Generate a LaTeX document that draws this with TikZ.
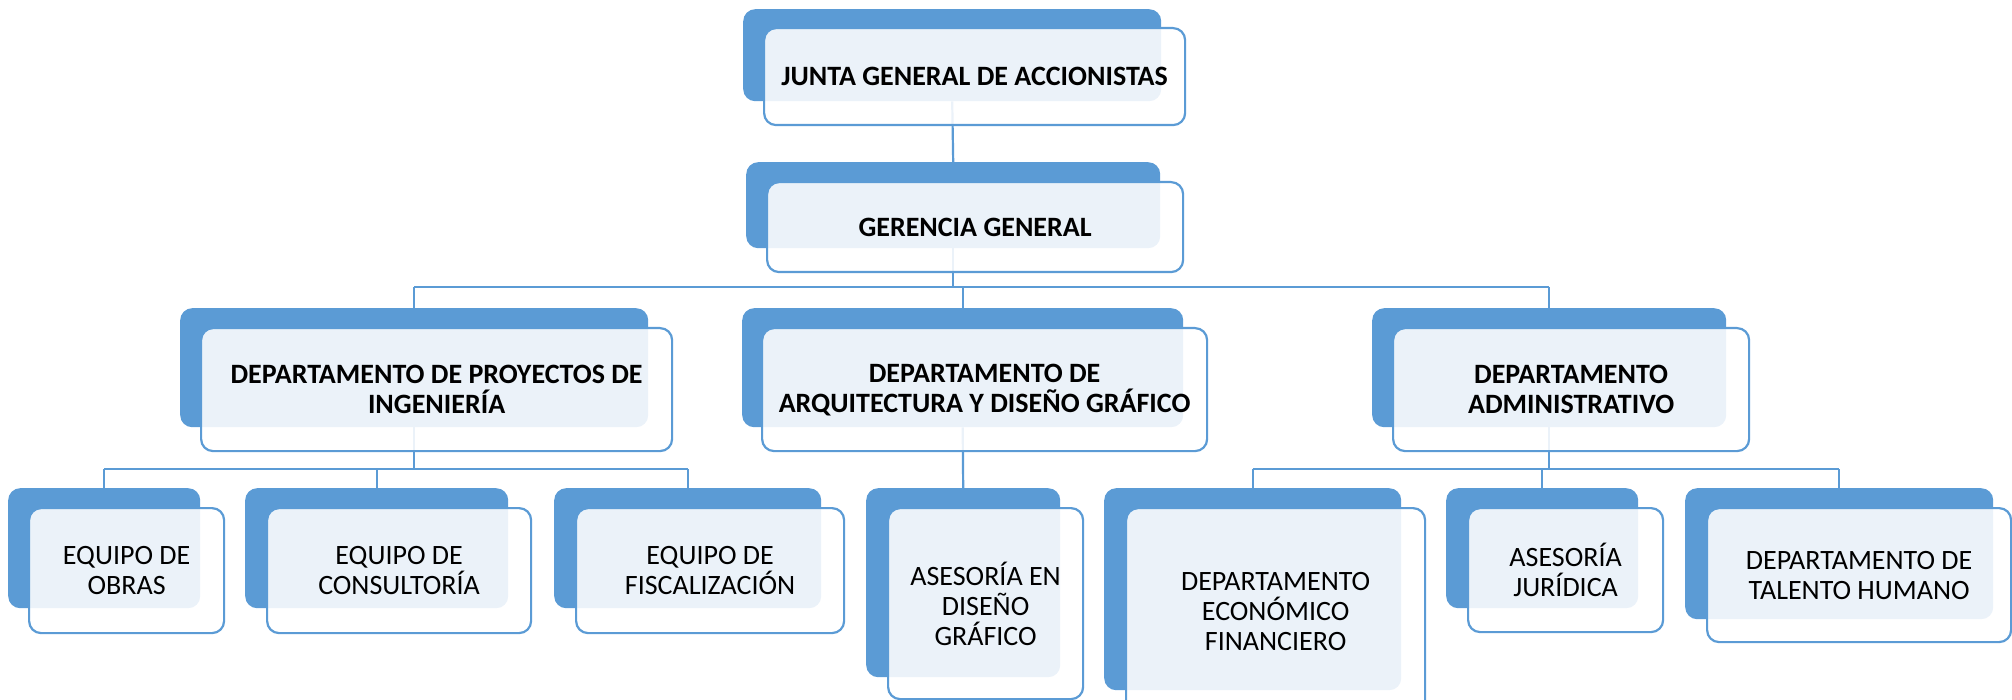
\documentclass[tikz,border=0pt]{standalone}
\usepackage{fontspec}
\setmainfont{Carlito}
\pgfdeclarelayer{backl}
\pgfdeclarelayer{linesl}
\pgfsetlayers{backl,linesl,main}
\definecolor{orgblue}{HTML}{5B9BD5}
\tikzset{
  backbox/.style={fill=orgblue, draw=none, rounded corners=12pt, anchor=north west, inner sep=0pt},
  frontbox/.style={fill=white, fill opacity=0.88, text opacity=1, draw=orgblue, line width=2.2pt, rounded corners=12pt, anchor=north west, inner sep=0pt, align=center, text=black},
  conn/.style={draw=orgblue, line width=2.2pt},
  boldtxt/.style={font=\fontsize{28}{30}\selectfont\bfseries},
  regtxt/.style={font=\fontsize{28}{30}\selectfont},
}
\begin{document}
\begin{tikzpicture}[x=1pt,y=-1pt]
\useasboundingbox (0,0) rectangle (2012,700);
\clip (0,0) rectangle (2012,700);
\begin{pgfonlayer}{backl}
\node[backbox, minimum width=418pt, minimum height=92pt] (jB) at (743,9) {};
\node[backbox, minimum width=414pt, minimum height=86pt] (gB) at (746,162) {};
\node[backbox, minimum width=468pt, minimum height=119pt] (pB) at (180,308) {};
\node[backbox, minimum width=441pt, minimum height=119pt] (aB) at (742,308) {};
\node[backbox, minimum width=354pt, minimum height=119pt] (dB) at (1372,308) {};
\node[backbox, minimum width=192pt, minimum height=120pt] (oB) at (8,488) {};
\node[backbox, minimum width=263pt, minimum height=120pt] (cB) at (245,488) {};
\node[backbox, minimum width=267pt, minimum height=120pt] (fB) at (554,488) {};
\node[backbox, minimum width=194pt, minimum height=189pt] (sB) at (866,488) {};
\node[backbox, minimum width=297pt, minimum height=202pt] (eB) at (1104,488) {};
\node[backbox, minimum width=192pt, minimum height=120pt] (rB) at (1446,488) {};
\node[backbox, minimum width=308pt, minimum height=131pt] (tB) at (1685,488) {};
\end{pgfonlayer}
% front boxes
\node[frontbox, boldtxt, minimum width=421pt, minimum height=97pt] (j) at (763,27) {JUNTA GENERAL DE ACCIONISTAS};
\node[frontbox, boldtxt, minimum width=416pt, minimum height=90pt] (g) at (766,181) {GERENCIA GENERAL};
\node[frontbox, boldtxt, minimum width=471pt, minimum height=123pt] (p) at (200,327) {DEPARTAMENTO DE PROYECTOS DE\\INGENIERÍA};
\node[frontbox, boldtxt, minimum width=445pt, minimum height=123pt] (a) at (761,327) {DEPARTAMENTO DE\\ARQUITECTURA Y DISEÑO GRÁFICO};
\node[frontbox, boldtxt, minimum width=356pt, minimum height=123pt] (d) at (1392,327) {DEPARTAMENTO\\ADMINISTRATIVO};
\node[frontbox, regtxt, minimum width=195pt, minimum height=125pt] (o) at (28,507) {EQUIPO DE\\OBRAS};
\node[frontbox, regtxt, minimum width=264pt, minimum height=125pt] (c) at (266,507) {EQUIPO DE\\CONSULTORÍA};
\node[frontbox, regtxt, minimum width=268pt, minimum height=125pt] (f) at (575,507) {EQUIPO DE\\FISCALIZACIÓN};
\node[frontbox, regtxt, minimum width=195pt, minimum height=191pt] (s) at (887,507) {ASESORÍA EN\\DISEÑO\\GRÁFICO};
\node[frontbox, regtxt, minimum width=299pt, minimum height=206pt] (e) at (1125,507) {DEPARTAMENTO\\ECONÓMICO\\FINANCIERO};
\node[frontbox, regtxt, minimum width=195pt, minimum height=124pt] (r) at (1467,507) {ASESORÍA\\JURÍDICA};
\node[frontbox, regtxt, minimum width=304pt, minimum height=134pt] (t) at (1706,507) {DEPARTAMENTO DE\\TALENTO HUMANO};
% connectors
\begin{pgfonlayer}{linesl}
\coordinate (busG) at (0,287);
\coordinate (busP) at (0,469);
\coordinate (busD) at (0,469);
\draw[conn] (jB.south) -- (gB.north);
\draw[conn] (gB.south) -- (gB.south |- busG);
\draw[conn] (pB.north |- busG) -- (dB.north |- busG);
\draw[conn] (pB.north |- busG) -- (pB.north);
\draw[conn] (aB.north |- busG) -- (aB.north);
\draw[conn] (dB.north |- busG) -- (dB.north);
\draw[conn] (pB.south) -- (pB.south |- busP);
\draw[conn] (oB.north |- busP) -- (fB.north |- busP);
\draw[conn] (oB.north |- busP) -- (oB.north);
\draw[conn] (cB.north |- busP) -- (cB.north);
\draw[conn] (fB.north |- busP) -- (fB.north);
\draw[conn] (aB.south) -- (sB.north);
\draw[conn] (dB.south) -- (dB.south |- busD);
\draw[conn] (eB.north |- busD) -- (tB.north |- busD);
\draw[conn] (eB.north |- busD) -- (eB.north);
\draw[conn] (rB.north |- busD) -- (rB.north);
\draw[conn] (tB.north |- busD) -- (tB.north);
\end{pgfonlayer}
\end{tikzpicture}
\end{document}
